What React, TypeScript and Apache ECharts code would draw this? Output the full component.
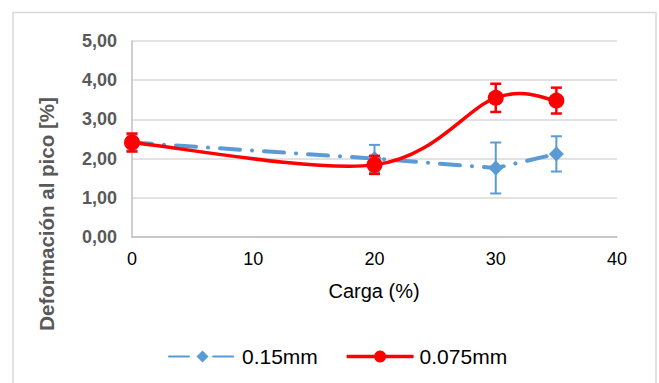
import React, { useEffect, useRef } from "react";
import * as echarts from "echarts";

const cargas = [0, 20, 30, 35];
const def015 = [2.41, 2.0, 1.76, 2.12];
const err015 = [0.2, 0.35, 0.65, 0.45];
const def0075 = [2.41, 1.84, 3.55, 3.48];
const err0075 = [0.23, 0.23, 0.36, 0.33];
const yTicks = [0, 1, 2, 3, 4, 5];
const xTicks = [0, 10, 20, 30, 40];

const BLUE = "#5B9BD5";
const RED = "#FF0000";
const FONT = "Liberation Sans, Arial, sans-serif";

function errSeries(vals: number[], errs: number[], color: string, w: number, z: number) {
  return {
    type: "custom",
    z,
    silent: true,
    data: cargas.map((c, i) => [c, vals[i] - errs[i], vals[i] + errs[i]]),
    encode: { x: 0, y: [1, 2] },
    renderItem: (params: any, api: any) => {
      const x = api.value(0);
      const lo = api.coord([x, api.value(1)]);
      const hi = api.coord([x, api.value(2)]);
      const cap = 5.5;
      const style = { stroke: color, lineWidth: w };
      return {
        type: "group",
        children: [
          { type: "line", shape: { x1: lo[0], y1: lo[1], x2: hi[0], y2: hi[1] }, style },
          { type: "line", shape: { x1: lo[0] - cap, y1: lo[1], x2: lo[0] + cap, y2: lo[1] }, style },
          { type: "line", shape: { x1: hi[0] - cap, y1: hi[1], x2: hi[0] + cap, y2: hi[1] }, style },
        ],
      };
    },
  };
}

// Excel-like smoothed curve (Catmull-Rom style Bezier) drawn through the axes' scales
function smoothSeries(xs: number[], ys: number[], color: string, w: number, z: number) {
  return {
    type: "custom",
    z,
    silent: true,
    data: xs.map((x, i) => [x, ys[i]]),
    encode: { x: 0, y: 1 },
    renderItem: (params: any, api: any) => {
      const i = params.dataIndex;
      const n = xs.length;
      if (i >= n - 1) return { type: "group", children: [] };
      const P = (j: number) => api.coord([xs[j], ys[j]]);
      const p1 = P(i);
      const p2 = P(i + 1);
      const p0 = i > 0 ? P(i - 1) : p1;
      const p3 = i + 2 < n ? P(i + 2) : p2;
      return {
        type: "bezierCurve",
        shape: {
          x1: p1[0],
          y1: p1[1],
          x2: p2[0],
          y2: p2[1],
          cpx1: p1[0] + (p2[0] - p0[0]) / 6,
          cpy1: p1[1] + (p2[1] - p0[1]) / 6,
          cpx2: p2[0] - (p3[0] - p1[0]) / 6,
          cpy2: p2[1] - (p3[1] - p1[1]) / 6,
        },
        style: { stroke: color, lineWidth: w, fill: "none", lineCap: "round" },
      };
    },
  };
}

export default function App() {
  const ref = useRef<HTMLDivElement>(null);
  useEffect(() => {
    if (!ref.current) return;
    const chart = echarts.init(ref.current, undefined, { renderer: "svg" });
    chart.setOption({
      animation: false,
      backgroundColor: "#ffffff",
      textStyle: { fontFamily: FONT },
      grid: { left: 132, right: 42, top: 41, bottom: 146 },
      xAxis: {
        type: "value",
        min: xTicks[0],
        max: xTicks[xTicks.length - 1],
        interval: 10,
        axisLine: { show: true, lineStyle: { color: "#BFBFBF", width: 1.5 } },
        axisTick: { show: false },
        splitLine: { show: false },
        axisLabel: { color: "#000000", fontSize: 18, margin: 13 },
      },
      yAxis: {
        type: "value",
        min: yTicks[0],
        max: yTicks[yTicks.length - 1],
        interval: 1,
        axisLine: { show: true, lineStyle: { color: "#BFBFBF", width: 1.5 } },
        axisTick: { show: false },
        splitLine: { show: true, lineStyle: { color: "#D9D9D9", width: 1.5 } },
        axisLabel: {
          color: "#595959",
          fontSize: 18,
          fontWeight: "bold",
          margin: 15,
          formatter: (v: number) => v.toFixed(2).replace(".", ","),
        },
      },
      legend: {
        data: [
          { name: "0.15mm" },
          { name: "0.075mm", lineStyle: { color: RED, width: 3.5, opacity: 1 } },
        ],
        left: 163,
        top: 341,
        itemWidth: 67,
        itemHeight: 15,
        itemGap: 27,
        textStyle: { fontSize: 21, color: "#000000", padding: [0, 0, 0, 1] },
      },
      graphic: [
        {
          type: "rect",
          shape: { x: 13, y: 12.5, width: 643, height: 400 },
          style: { fill: "none", stroke: "#D9D9D9", lineWidth: 1.5 },
          silent: true,
        },
        {
          type: "text",
          x: 46,
          y: 214,
          rotation: Math.PI / 2,
          style: {
            text: "Deformación al pico [%]",
            fontSize: 20.5,
            fontWeight: "bold",
            fill: "#595959",
            fontFamily: FONT,
            align: "center",
            verticalAlign: "middle",
          },
        },
        {
          type: "text",
          x: 374,
          y: 291,
          style: {
            text: "Carga (%)",
            fontSize: 20,
            fill: "#000000",
            fontFamily: FONT,
            align: "center",
            verticalAlign: "middle",
          },
        },
      ],
      series: [
        errSeries(def015, err015, BLUE, 2, 2),
        {
          name: "0.15mm",
          type: "line",
          z: 3,
          data: cargas.map((c, i) => [c, def015[i]]),
          symbol: "diamond",
          symbolSize: 15,
          itemStyle: { color: BLUE },
          lineStyle: { color: BLUE, width: 4, type: [20, 12, 0.1, 12], cap: "round" },
        },
        errSeries(def0075, err0075, RED, 2.5, 4),
        smoothSeries(cargas, def0075, RED, 3.5, 5),
        {
          name: "0.075mm",
          type: "line",
          z: 6,
          data: cargas.map((c, i) => [c, def0075[i]]),
          symbol: "circle",
          symbolSize: 16,
          itemStyle: { color: RED },
          lineStyle: { color: RED, width: 3.5, opacity: 0 },
        },
      ],
    });
    return () => chart.dispose();
  }, []);
  return <div ref={ref} style={{ width: 659, height: 383, position: "absolute", left: 0, top: 0 }} />;
}
